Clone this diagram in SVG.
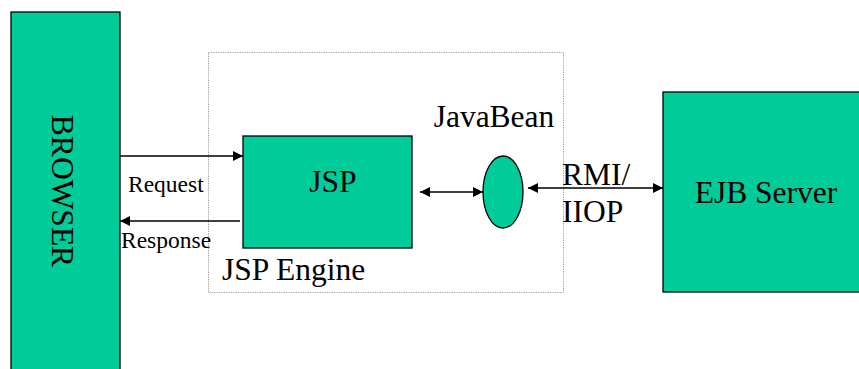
<svg xmlns="http://www.w3.org/2000/svg" width="859" height="369" viewBox="0 0 859 369">
  <style>
    .box { fill: #00cc99; stroke: #000; stroke-width: 1.3; }
    text { font-family: 'Liberation Serif', 'Times New Roman', Times, 'DejaVu Serif', serif; fill: #000; }
    .lbl { font-size: 31.5px; }
    .small { font-size: 23.5px; }
    .link { stroke: #000; stroke-width: 1.5; fill: none; }
  </style>
  <defs>
    <marker id="head" viewBox="0 0 10 10" refX="10" refY="5" markerWidth="10" markerHeight="10" markerUnits="userSpaceOnUse" orient="auto-start-reverse">
      <path d="M0,0 L10,5 L0,10 Z" fill="#000"/>
    </marker>
  </defs>
  <rect width="859" height="369" fill="#fff"/>

  <!-- container for the JSP engine -->
  <g id="jsp-engine">
    <rect x="208.5" y="52.5" width="355" height="240" fill="none" stroke="#999" stroke-width="1" stroke-dasharray="1.2,1.2"/>
    <text class="lbl" x="222" y="280">JSP Engine</text>
  </g>

  <g id="browser">
    <rect class="box" x="11" y="12" width="109" height="370"/>
    <text class="lbl" transform="translate(52,191) rotate(90)" text-anchor="middle">BROWSER</text>
  </g>

  <g id="jsp">
    <rect class="box" x="243" y="136" width="169" height="112"/>
    <text class="lbl" x="333" y="192" text-anchor="middle">JSP</text>
  </g>

  <g id="javabean">
    <ellipse class="box" cx="503" cy="192" rx="20" ry="36"/>
    <text class="lbl" x="494" y="127" text-anchor="middle">JavaBean</text>
  </g>

  <g id="ejb-server">
    <rect class="box" x="663" y="92" width="200" height="200"/>
    <text class="lbl" x="766" y="203" text-anchor="middle">EJB Server</text>
  </g>

  <g id="connectors">
    <line class="link" x1="120" y1="156" x2="243" y2="156" marker-end="url(#head)"/>
    <text class="small" x="128" y="192">Request</text>
    <line class="link" x1="240" y1="221" x2="120" y2="221" marker-end="url(#head)"/>
    <text class="small" x="121" y="248">Response</text>
    <line class="link" x1="420" y1="192" x2="483" y2="192" marker-start="url(#head)" marker-end="url(#head)"/>
    <line class="link" x1="528" y1="188" x2="663" y2="188" marker-start="url(#head)" marker-end="url(#head)"/>
    <text class="lbl" x="562" y="185">RMI/</text>
    <text class="lbl" x="562" y="222">IIOP</text>
  </g>
</svg>
